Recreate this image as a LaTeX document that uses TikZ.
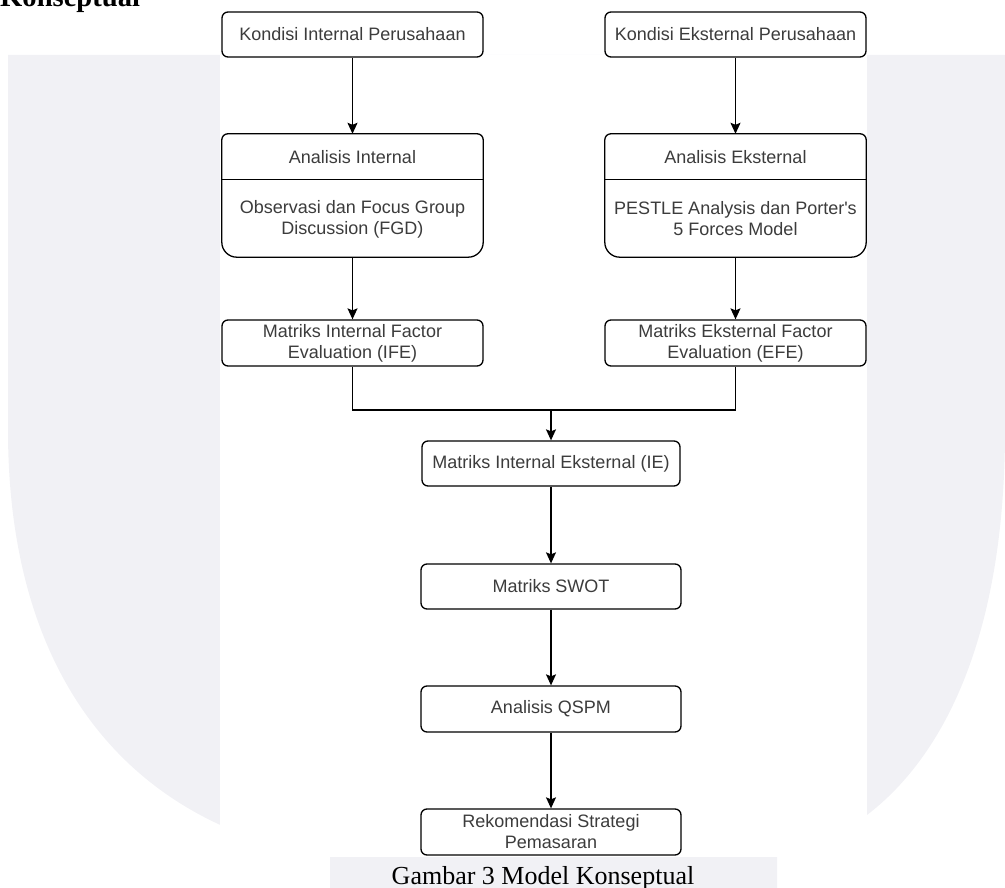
\documentclass[tikz,border=0pt]{standalone}
\usepackage{fontspec}
\setmainfont{Liberation Serif}
\newfontfamily\arialf{Liberation Sans}
\usetikzlibrary{arrows.meta,calc}
\definecolor{wm}{RGB}{241,241,245}
\definecolor{txt}{RGB}{60,60,60}
\begin{document}
\begin{tikzpicture}[x=1pt,y=-1pt,
  lbl/.style={font=\arialf\fontsize{18}{21}\selectfont, text=txt, align=center},
  box/.style={lbl, draw=black, line width=1.3pt, rounded corners=6pt, fill=white, minimum width=261pt, minimum height=45pt, inner sep=0pt},
  frame/.style={minimum width=261pt, minimum height=123pt, inner sep=0pt},
  conn/.style={draw=black, line width=1.3pt},
  arr/.style={conn, -{Stealth[length=11pt,width=10pt,inset=2pt]}},
]
\useasboundingbox (0,0) rectangle (1005,888);
% watermark background
\fill[wm] (8,55) -- (1005,55) -- (1005,430) .. controls (1005,700) and (900,830) .. (777,857) -- (777,888) -- (330,888) -- (330,857) .. controls (150,830) and (8,700) .. (8,430) -- cycle;
\fill[white] (220,55) rectangle (867,857);

% heading fragment
\node[anchor=base west, inner sep=0pt, font=\bfseries\fontsize{28.6}{30}\selectfont] (head) at (0,7) {Konseptual};

% top boxes
\node[box] (ki) at (352.5,34.5) {Kondisi Internal Perusahaan};
\node[box] (ke) at (735.5,34.5) {Kondisi Eksternal Perusahaan};

% analysis boxes (frames)
\node[frame] (ai) at (352.5,195.5) {};
\node[frame] (ae) at (735.5,195.5) {};
\foreach \n in {ai,ae}{
  \draw[conn, fill=white] (\n.west) [rounded corners=6pt] |- (\n.north) -| (\n.east) [rounded corners=15pt] |- (\n.south) -| (\n.west);
  \draw[conn] ($(\n.north west)+(0,46)$) -- ($(\n.north east)+(0,46)$);
}
\node[lbl] (aih) at (352.5,157) {Analisis Internal};
\node[lbl] (aib) at (352.5,219) {Observasi dan Focus Group\\Discussion (FGD)};
\node[lbl] (aeh) at (735.5,157) {Analisis Eksternal};
\node[lbl] (aeb) at (735.5,219) {PESTLE Analysis dan Porter's\\5 Forces Model};

% matrix boxes
\node[box, minimum height=46pt] (ife) at (352.5,343) {Matriks Internal Factor\\Evaluation (IFE)};
\node[box, minimum height=46pt] (efe) at (735.5,343) {Matriks Eksternal Factor\\Evaluation (EFE)};

\node[box, minimum width=258pt] (ie) at (551,463.5) {Matriks Internal Eksternal (IE)};
\node[box, minimum width=260pt] (swot) at (551,586.5) {Matriks SWOT};
\node[box, minimum width=260pt, minimum height=46pt] (qspm) at (551,709) {Analisis QSPM};
\node[box, minimum width=260pt, minimum height=46pt] (rek) at (551,832) {Rekomendasi Strategi\\Pemasaran};

% connectors
\draw[arr] (ki) -- (ai);
\draw[arr] (ke) -- (ae);
\draw[arr] (ai) -- (ife);
\draw[arr] (ae) -- (efe);
\coordinate (j) at (551,410);
\draw[conn] (ife.south) |- (j);
\draw[conn] (efe.south) |- (j);
\draw[arr] (j) -- (ie.north);
\draw[arr] (ie) -- (swot);
\draw[arr] (swot) -- (qspm);
\draw[arr] (qspm) -- (rek);

% caption
\node[anchor=base, inner sep=0pt, font=\fontsize{26}{28}\selectfont] (cap) at (543,884) {Gambar 3 Model Konseptual};
\end{tikzpicture}
\end{document}
